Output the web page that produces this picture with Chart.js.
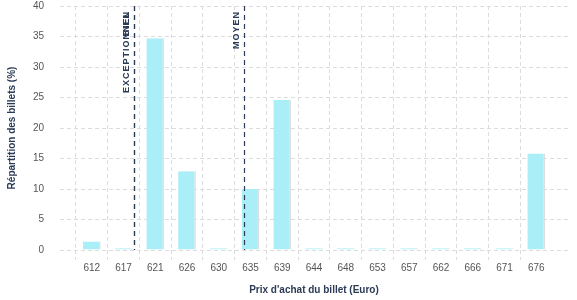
<!DOCTYPE html>
<html>
<head>
<meta charset="utf-8">
<script src="https://cdn.jsdelivr.net/npm/chart.js@4"></script>
<style>
  html, body { margin: 0; padding: 0; background: #fff; }
</style>
</head>
<body>
<canvas id="chart" width="577" height="300"></canvas>
<script>
// Price buckets (blank slots at both ends give the axis its padding)
const prices = ["", "612", "617", "621", "626", "630", "635", "639", "644", "648", "653", "657", "662", "666", "671", "676", ""];
const share = [null, 1.4, 0.3, 34.7, 12.9, 0.3, 10.0, 24.6, 0.3, 0.3, 0.3, 0.3, 0.3, 0.3, 0.3, 15.8, null];
const yTicks = [0, 5, 10, 15, 20, 25, 30, 35, 40];

// Reference lines, positions as fractional category index
const refLabels = ["EXCEPTIONNEL", "BIEN", "MOYEN"];
const refPos = [2.34, 2.34, 5.8];

const NAVY = "#2b3a55";
const FONT = "'Liberation Sans', Arial, sans-serif";

const refLines = {
  id: "refLines",
  afterDatasetsDraw(chart) {
    const { ctx, chartArea, scales: { x, y } } = chart;
    ctx.save();
    refPos.forEach((p, i) => {
      const px = Math.round(x.getPixelForValue(p)) + 0.5;
      ctx.strokeStyle = NAVY;
      ctx.lineWidth = 1.2;
      ctx.setLineDash([5, 4]);
      ctx.beginPath();
      ctx.moveTo(px, chartArea.top);
      ctx.lineTo(px, y.getPixelForValue(0));
      ctx.stroke();
      ctx.setLineDash([]);
      ctx.translate(px - 3, chartArea.top + 5);
      ctx.rotate(-Math.PI / 2);
      ctx.fillStyle = NAVY;
      ctx.font = "bold 9px " + FONT;
      ctx.textAlign = "right";
      ctx.textBaseline = "bottom";
      ctx.letterSpacing = "1px";
      ctx.fillText(refLabels[i], 0, 0);
      ctx.setTransform(1, 0, 0, 1, 0, 0);
    });
    ctx.restore();
  },
};

new Chart(document.getElementById("chart"), {
  type: "bar",
  data: {
    labels: prices,
    datasets: [{
      data: share,
      backgroundColor: "#aaeef8",
      borderColor: "#dedede",
      borderWidth: { right: 1.5, left: 0, top: 0, bottom: 0 },
      borderSkipped: false,
      barPercentage: 0.56,
      categoryPercentage: 1,
    }],
  },
  options: {
    responsive: false,
    animation: false,
    devicePixelRatio: 1,
    layout: { padding: { top: 6, right: 9, left: 0, bottom: 0 } },
    plugins: { legend: { display: false }, tooltip: { enabled: false } },
    scales: {
      x: {
        offset: false,
        grid: {
          color: (c) => (prices[c.index] ? "#dcdcdc" : "rgba(0,0,0,0)"),
          tickLength: 10,
          tickBorderDash: [4, 3],
        },
        border: { display: false, dash: [4, 3] },
        ticks: {
          color: "#555",
          font: { size: 10, family: FONT },
          padding: 2,
          maxRotation: 0,
          autoSkip: false,
        },
        title: {
          display: true,
          text: "Prix d'achat du billet (Euro)",
          color: NAVY,
          font: { size: 10, weight: "bold", family: FONT },
          padding: { top: 14 },
        },
        afterFit: (s) => { s.height = 50; s.paddingLeft = 0; s.paddingRight = 0; },
      },
      y: {
        min: 0,
        max: 40,
        afterBuildTicks: (s) => { s.ticks = yTicks.map((v) => ({ value: v })); },
        grid: { color: "#dcdcdc", drawTicks: false },
        border: { display: false, dash: [4, 3] },
        ticks: {
          color: "#555",
          font: { size: 10, family: FONT },
          padding: 16,
          autoSkip: false,
        },
        title: {
          display: true,
          text: "Répartition des billets (%)",
          color: NAVY,
          font: { size: 10, weight: "bold", family: FONT },
          padding: { bottom: 4, top: 6 },
        },
        afterFit: (s) => { s.width = 60; s.paddingTop = 0; s.paddingBottom = 0; },
      },
    },
  },
  plugins: [refLines],
});
</script>
</body>
</html>
